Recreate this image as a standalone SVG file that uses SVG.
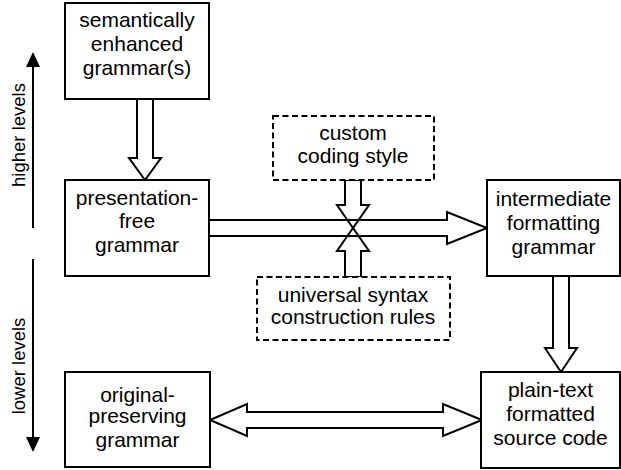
<svg xmlns="http://www.w3.org/2000/svg" width="621" height="470" viewBox="0 0 621 470">
<style>
.box{fill:#fff;stroke:#000;stroke-width:2}
.dash{fill:#fff;stroke:#000;stroke-width:2;stroke-dasharray:6,3.5}
.t{font-family:"Liberation Sans",Arial,sans-serif;font-size:21px;fill:#000;text-anchor:middle}
.s{font-family:"Liberation Sans",Arial,sans-serif;font-size:18.5px;fill:#000;text-anchor:middle}
.fat{fill:none;stroke:#000;stroke-width:2;stroke-linejoin:miter}
.axis{stroke:#000;stroke-width:2}
</style>
<rect width="621" height="470" fill="#fff"/>
<g id="connectors">
<polygon class="fat" points="137,99 137,158 129,158 145,180 161,158 153,158 153,99"/>
<polygon class="fat" points="345,180 345,205 337,205 353,228 369,205 361,205 361,180"/>
<polygon class="fat" points="345,277 345,251 337,251 353,228 369,251 361,251 361,277"/>
<polygon class="fat" points="209,220 447,220 447,212 487,228 447,244 447,236 209,236"/>
<polygon class="fat" points="553,276 553,348 545,348 561,372 577,348 569,348 569,276"/>
<polygon class="fat" points="210,420 247,404 247,412 443,412 443,404 482,420 443,436 443,428 247,428 247,436"/>
</g>
<g id="higher-levels">
<line class="axis" x1="33" y1="66" x2="33" y2="228"/>
<polygon points="33,52 26,67 40,67" fill="#000"/>
<text class="s" transform="translate(25,135) rotate(-90)">higher levels</text>
</g>
<g id="lower-levels">
<line class="axis" x1="33" y1="259" x2="33" y2="438"/>
<polygon points="33,452 26,437 40,437" fill="#000"/>
<text class="s" transform="translate(25,366) rotate(-90)">lower levels</text>
</g>
<g id="semantic">
<rect class="box" x="65" y="3" width="144" height="96"/>
<text class="t" x="137" y="27">semantically</text>
<text class="t" x="137" y="51">enhanced</text>
<text class="t" x="137" y="75">grammar(s)</text>
</g>
<g id="presentation-free">
<rect class="box" x="65" y="180" width="144" height="96"/>
<text class="t" x="137" y="205">presentation-</text>
<text class="t" x="137" y="228">free</text>
<text class="t" x="137" y="252">grammar</text>
</g>
<g id="original">
<rect class="box" x="65" y="372" width="145" height="95"/>
<text class="t" x="137.5" y="402">original-</text>
<text class="t" x="137.5" y="423">preserving</text>
<text class="t" x="137.5" y="447">grammar</text>
</g>
<g id="custom">
<rect class="dash" x="273" y="116" width="161" height="64"/>
<text class="t" x="353" y="140">custom</text>
<text class="t" x="353" y="163">coding style</text>
</g>
<g id="universal">
<rect class="dash" x="257" y="277" width="193" height="63"/>
<text class="t" x="353" y="302">universal syntax</text>
<text class="t" x="353" y="324">construction rules</text>
</g>
<g id="intermediate">
<rect class="box" x="487" y="180" width="133" height="96"/>
<text class="t" x="553.5" y="206">intermediate</text>
<text class="t" x="553.5" y="230">formatting</text>
<text class="t" x="553.5" y="254">grammar</text>
</g>
<g id="plaintext">
<rect class="box" x="481" y="372" width="139" height="96"/>
<text class="t" x="550.5" y="397">plain-text</text>
<text class="t" x="550.5" y="421">formatted</text>
<text class="t" x="550.5" y="445">source code</text>
</g>
</svg>
